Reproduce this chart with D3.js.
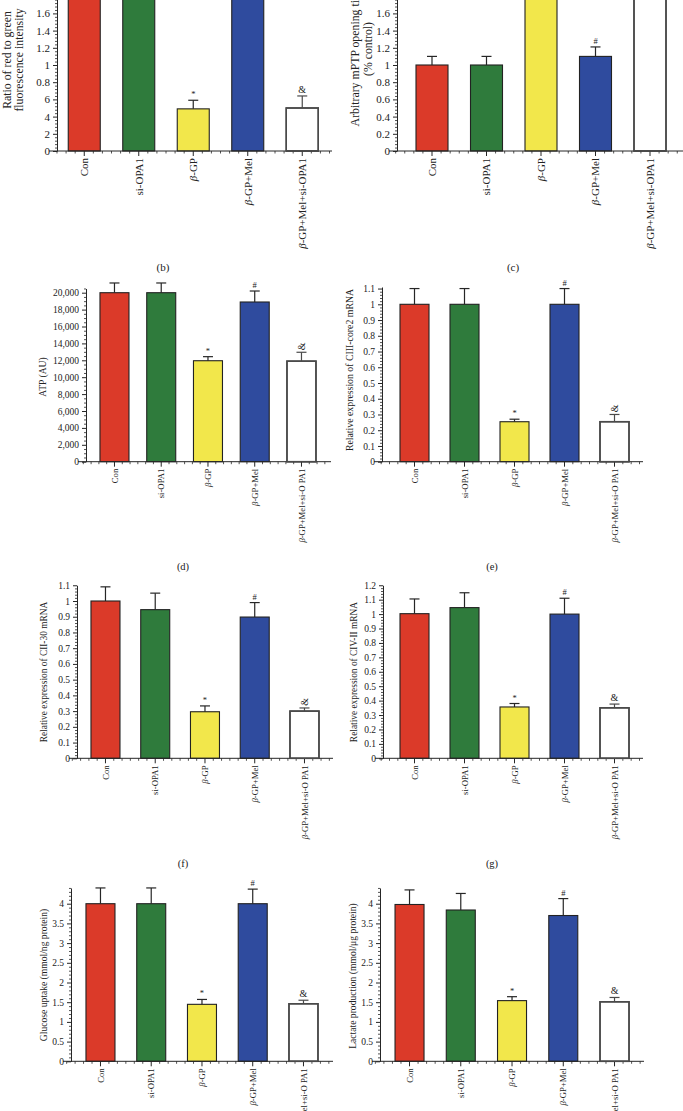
<!DOCTYPE html>
<html><head><meta charset="utf-8">
<script src="https://cdn.jsdelivr.net/npm/d3@7"></script>
<style>
body{margin:0;background:#fff}
svg{display:block}
text{font-family:"Liberation Serif","Times New Roman",serif;fill:#222}
</style>
</head><body>
<svg id="fig" width="683" height="1111"></svg>
<script>
// ---------- data ----------
const categories = ["Con","si-OPA1","bGP","bGPMel","bGPMelsi"];
const labelsB = ["Con","si-OPA1","β-GP","β-GP+Mel","β-GP+Mel+si-OPA1"];
const labelsD = ["Con","si-OPA1","β-GP","β-GP+Mel","β-GP+Mel+si-O PA1"];
const barColors = ["#db3a29","#2f7b3c","#f2e74b","#2f4b9e","#ffffff"];
const markers = ["","","*","#","&"];

const ratioValues = [2.0, 2.0, 0.49, 2.0, 0.50];
const ratioErrors = [0.10, 0.10, 0.10, 0.10, 0.14];
const ratioTickValues = [0,0.2,0.4,0.6,0.8,1,1.2,1.4,1.6];
const ratioTickLabels = ["0","2","4","6","0.8","1","1.2","1.4","1.6"];

const mptpValues = [1.0, 1.0, 2.0, 1.1, 2.0];
const mptpErrors = [0.10, 0.10, 0.10, 0.11, 0.10];
const mptpTickValues = [0,0.2,0.4,0.6,0.8,1,1.2,1.4,1.6];
const mptpTickLabels = ["0","0.2","0.4","0.6","0.8","1","1.2","1.4","1.6"];

const atpValues = [20000, 20000, 11950, 18900, 11900];
const atpErrors = [1150, 1150, 480, 1300, 1050];
const atpTickValues = [0,2000,4000,6000,8000,10000,12000,14000,16000,18000,20000];

const ciiiValues = [1.0, 1.0, 0.254, 1.0, 0.254];
const ciiiErrors = [0.10, 0.10, 0.016, 0.10, 0.046];
const ciiiTickValues = [0,0.1,0.2,0.3,0.4,0.5,0.6,0.7,0.8,0.9,1,1.1];

const ciiValues = [1.0, 0.945, 0.296, 0.898, 0.30];
const ciiErrors = [0.09, 0.105, 0.037, 0.092, 0.02];
const ciiTickValues = [0,0.1,0.2,0.3,0.4,0.5,0.6,0.7,0.8,0.9,1,1.1];

const civValues = [1.003, 1.045, 0.356, 1.0, 0.35];
const civErrors = [0.102, 0.103, 0.024, 0.11, 0.026];
const civTickValues = [0,0.1,0.2,0.3,0.4,0.5,0.6,0.7,0.8,0.9,1,1.1,1.2];

const glucoseValues = [4.0, 4.0, 1.446, 4.0, 1.46];
const glucoseErrors = [0.40, 0.40, 0.124, 0.37, 0.09];
const glucoseTickValues = [0,0.5,1,1.5,2,2.5,3,3.5,4];

const lactateValues = [3.98, 3.84, 1.54, 3.70, 1.51];
const lactateErrors = [0.37, 0.42, 0.10, 0.43, 0.11];
const lactateTickValues = [0,0.5,1,1.5,2,2.5,3,3.5,4];

// ---------- layout ----------
const panels = [
 {id:"b", values:ratioValues, errors:ratioErrors, ticks:ratioTickValues, fmt:(d,i)=>ratioTickLabels[i],
  yMax:1.8, minorStep:0.04, ax:57, y0:151, k:86, r0:57, step:54.5, bw:32, xEnd:332,
  labels:labelsB, catFs:11, tickFs:11, titleFs:11.8,
  titles:[{t:"Ratio of red to green",x:11,y:60},{t:"fluorescence intensity",x:22.5,y:60}],
  tag:{t:"(b)",x:163,y:271}, tagFs:11, rotMark:false},
 {id:"c", values:mptpValues, errors:mptpErrors, ticks:mptpTickValues, fmt:(d,i)=>mptpTickLabels[i],
  yMax:1.8, minorStep:0.04, ax:397, y0:151, k:86, r0:404.75, step:54.5, bw:32, xEnd:690,
  labels:labelsB, catFs:11, tickFs:11, titleFs:11.8,
  titles:[{t:"Arbitrary mPTP opening time",x:359,y:56},{t:"(% control)",x:372,y:49}],
  tag:{t:"(c)",x:513,y:271}, tagFs:11, rotMark:false},
 {id:"d", values:atpValues, errors:atpErrors, ticks:atpTickValues, fmt:d3.format(","),
  yMax:20500, minorStep:500, ax:86, y0:461.7, k:0.00845, r0:91.1, step:46.75, bw:29, xEnd:331,
  labels:labelsD, catFs:8.7, tickFs:9.5, titleFs:9.6,
  titles:[{t:"ATP (AU)",x:46,y:377}],
  tag:{t:"(d)",x:183,y:570}, tagFs:10.5, rotMark:true},
 {id:"e", values:ciiiValues, errors:ciiiErrors, ticks:ciiiTickValues, fmt:d3.format("~g"),
  yMax:1.11, minorStep:0.02, ax:382, y0:461.7, k:157.4, r0:389.5, step:50, bw:29, xEnd:643,
  labels:labelsD, catFs:8.7, tickFs:9.5, titleFs:9.8,
  titles:[{t:"Relative expression of CIII-core2 mRNA",x:352.5,y:370}],
  tag:{t:"(e)",x:492,y:570}, tagFs:10.5, rotMark:true},
 {id:"f", values:ciiValues, errors:ciiErrors, ticks:ciiTickValues, fmt:d3.format("~g"),
  yMax:1.1, minorStep:0.02, ax:77, y0:758.3, k:157.3, r0:80.6, step:49.75, bw:29, xEnd:333,
  labels:labelsD, catFs:8.7, tickFs:9.5, titleFs:9.4,
  titles:[{t:"Relative expression of CII-30 mRNA",x:46.5,y:672}],
  tag:{t:"(f)",x:183,y:867}, tagFs:10.5, rotMark:true},
 {id:"g", values:civValues, errors:civErrors, ticks:civTickValues, fmt:d3.format("~g"),
  yMax:1.2, minorStep:0.02, ax:383, y0:758.3, k:144.2, r0:389.5, step:50, bw:29, xEnd:643,
  labels:labelsD, catFs:8.7, tickFs:9.5, titleFs:9.4,
  titles:[{t:"Relative expression of CIV-II mRNA",x:356.5,y:672}],
  tag:{t:"(g)",x:492,y:867}, tagFs:10.5, rotMark:false},
 {id:"h", values:glucoseValues, errors:glucoseErrors, ticks:glucoseTickValues, fmt:d3.format("~g"),
  yMax:4.4, minorStep:0.1, ax:71, y0:1061.3, k:39.4, r0:75.1, step:50.75, bw:29, xEnd:333,
  labels:labelsD, catFs:8.7, tickFs:9.5, titleFs:9.6,
  titles:[{t:"Glucose uptake (mmol/ng protein)",x:46.5,y:975}],
  tag:null, rotMark:false},
 {id:"i", values:lactateValues, errors:lactateErrors, ticks:lactateTickValues, fmt:d3.format("~g"),
  yMax:4.4, minorStep:0.1, ax:380, y0:1061.3, k:39.4, r0:383.9, step:51.25, bw:29, xEnd:644,
  labels:labelsD, catFs:8.7, tickFs:9.5, titleFs:9.6,
  titles:[{t:"Lactate production (mmol/μg protein)",x:355.5,y:976}],
  tag:null, rotMark:false}
];

const svg = d3.select("#fig");
const ink = "#262626";
const whiteEdge = "#4a4a4a";
const overlay = [];

function addLabel(sel, str){
  const parts = str.split("β");
  parts.forEach((p,i)=>{
    if(i>0) sel.append("tspan").style("font-style","italic").text("β");
    if(p) sel.append("tspan").text(p);
  });
}

panels.forEach(p=>{
  const g = svg.append("g").attr("class","panel-"+p.id);
  const y = d3.scaleLinear().domain([0,p.yMax]).range([p.y0, p.y0 - p.k*p.yMax]);
  const pad = 1 - p.bw/p.step;
  const x = d3.scaleBand().domain(categories).range([p.r0, p.r0 + 5*p.step])
              .paddingInner(pad).paddingOuter(pad/2);

  // bars
  const data = categories.map((c,i)=>({c,i,v:p.values[i],e:p.errors[i]}));
  g.selectAll("rect.bar").data(data).join("rect").attr("class","bar")
    .attr("x",d=>x(d.c)).attr("width",x.bandwidth())
    .attr("y",d=>y(d.v)).attr("height",d=>p.y0 - y(d.v))
    .attr("fill",d=>barColors[d.i])
    .attr("stroke",d=>d.i===4?whiteEdge:"#222").attr("stroke-width",d=>d.i===4?1.5:1.1);
  overlay.push({x:x(categories[4]), w:x.bandwidth(), y:y(p.values[4]), h:p.y0 - y(p.values[4])});

  // error bars (upper)
  const cx = d=>x(d.c)+x.bandwidth()/2;
  g.selectAll("line.err").data(data).join("line").attr("class","err")
    .attr("x1",cx).attr("x2",cx).attr("y1",d=>y(d.v)).attr("y2",d=>y(d.v+d.e))
    .attr("stroke",d=>d.i===4?whiteEdge:ink).attr("stroke-width",1.2);
  g.selectAll("line.cap").data(data).join("line").attr("class","cap")
    .attr("x1",d=>cx(d)-5).attr("x2",d=>cx(d)+5).attr("y1",d=>y(d.v+d.e)).attr("y2",d=>y(d.v+d.e))
    .attr("stroke",d=>d.i===4?whiteEdge:ink).attr("stroke-width",1.2);

  // significance markers (only those that fall inside the figure)
  g.selectAll("text.mk").data(data.filter(d=>markers[d.i] && y(d.v+d.e) > 12)).join("text").attr("class","mk")
    .attr("text-anchor","middle")
    .attr("font-size",d=>markers[d.i]==="&"?10:8.5)
    .attr("transform",d=>{
      const yy = y(d.v+d.e);
      if(p.rotMark && markers[d.i]==="&") return `translate(${cx(d)+3.5},${yy-6}) rotate(-90)`;
      return `translate(${cx(d)},${yy-3})`;
    })
    .text(d=>markers[d.i]);

  // y axis
  const yAxis = d3.axisLeft(y).tickValues(p.ticks).tickFormat(p.fmt).tickSize(4).tickSizeOuter(0).tickPadding(3);
  const ya = g.append("g").attr("transform",`translate(${p.ax},0)`).call(yAxis);
  ya.selectAll("text").attr("font-size",p.tickFs).style("font-family",'"Liberation Serif",serif').attr("fill",ink);
  ya.selectAll("line,path").attr("stroke",ink).attr("stroke-width",1);
  const minors = d3.range(0, p.yMax+1e-9, p.minorStep).filter(v=>!p.ticks.some(t=>Math.abs(t-v)<1e-9));
  const ym = g.append("g").attr("transform",`translate(${p.ax},0)`)
    .call(d3.axisLeft(y).tickValues(minors).tickFormat("").tickSize(2).tickSizeOuter(0));
  ym.select("path").remove();
  ym.selectAll("line").attr("stroke",ink).attr("stroke-width",0.8);

  // x axis
  g.append("line").attr("x1",p.ax-8).attr("x2",p.xEnd).attr("y1",p.y0).attr("y2",p.y0)
    .attr("stroke",ink).attr("stroke-width",1);
  const s6 = p.step/6;
  const jMin = Math.ceil((p.ax-8-p.r0)/s6), jMax = Math.floor((p.xEnd-p.r0)/s6);
  const xm = d3.range(jMin, jMax+1).map(j=>({pos:p.r0 + j*s6, major: ((j%6)+6)%6===3}));
  g.selectAll("line.xt").data(xm).join("line").attr("class","xt")
    .attr("x1",d=>d.pos).attr("x2",d=>d.pos)
    .attr("y1",p.y0).attr("y2",d=>p.y0+(d.major?5:2.5))
    .attr("stroke",ink).attr("stroke-width",d=>d.major?1:0.8);

  // category labels
  g.selectAll("text.cat").data(data).join("text").attr("class","cat")
    .attr("font-size",p.catFs).attr("text-anchor","end")
    .attr("transform",d=>`translate(${cx(d)+p.catFs*0.35},${p.y0+7}) rotate(-90)`)
    .each(function(d){ addLabel(d3.select(this), p.labels[d.i]); });

  // y titles
  p.titles.forEach(t=>{
    g.append("text").attr("font-size",p.titleFs).attr("text-anchor","middle")
      .attr("transform",`translate(${t.x},${t.y}) rotate(-90)`).text(t.t);
  });

  if(p.tag){
    g.append("text").attr("font-size",p.tagFs).attr("text-anchor","middle")
      .attr("x",p.tag.x).attr("y",p.tag.y).text(p.tag.t);
  }
});

// final outline pass for the white (unfilled) bars so nothing hides their edges
svg.append("g").selectAll("rect").data(overlay).join("rect")
  .attr("x",d=>d.x).attr("y",d=>d.y).attr("width",d=>d.w).attr("height",d=>d.h)
  .attr("fill","none").attr("stroke",whiteEdge).attr("stroke-width",1.5);
</script>
</body></html>
